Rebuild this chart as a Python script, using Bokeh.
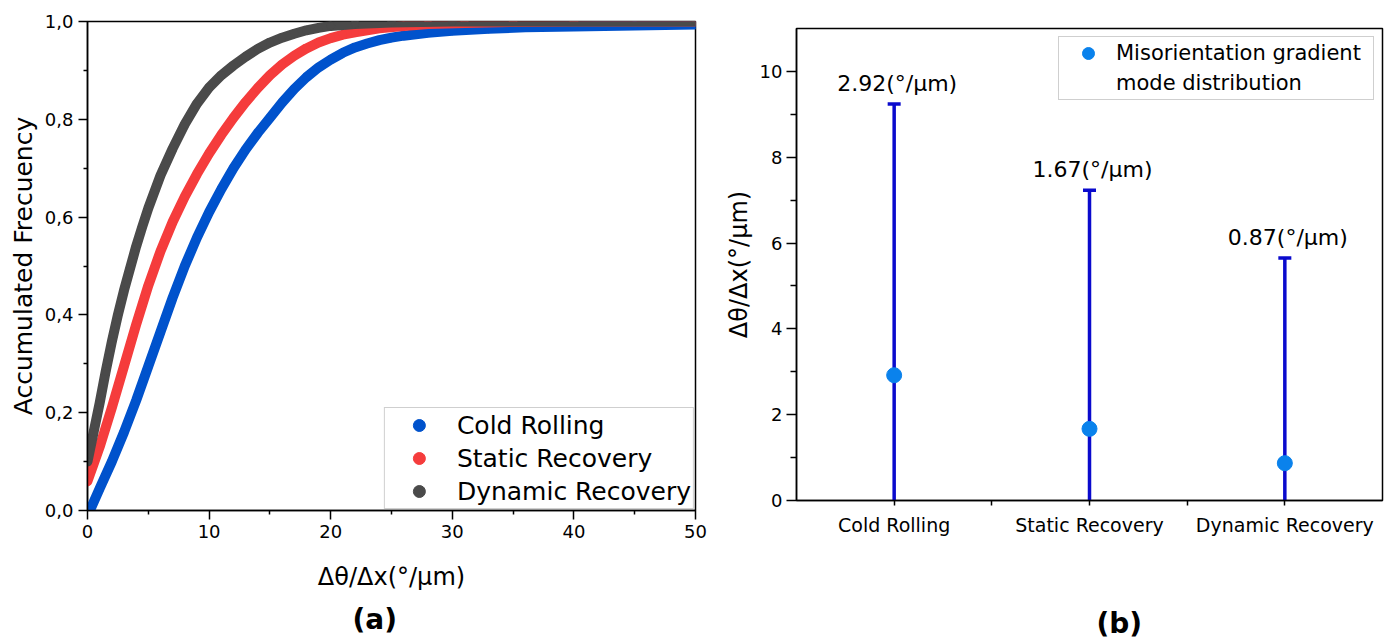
from bokeh.plotting import figure
from bokeh.models import (ColumnDataSource, Legend, LegendItem, FixedTicker, Whisker,
                          TeeHead, Title, Range1d)
from bokeh.layouts import row, column
from bokeh.embed import file_html
from bokeh.resources import INLINE
from bokeh.core.properties import value

# ---------------- data ----------------
cold_x = [0.2, 1, 2, 3, 4, 5, 6, 7, 8, 9, 10, 11, 12, 13, 14, 15, 16, 17, 18, 19, 20, 21, 22, 23, 24, 25,
          26, 28, 30, 33, 36, 40, 45, 50]
cold_y = [0.0, 0.045, 0.10, 0.16, 0.225, 0.295, 0.365, 0.435, 0.50, 0.558, 0.61, 0.657, 0.70, 0.738, 0.772,
          0.803, 0.834, 0.862, 0.886, 0.906, 0.922, 0.936, 0.947, 0.955, 0.962, 0.967, 0.971, 0.977, 0.981,
          0.985, 0.988, 0.990, 0.992, 0.994]

static_x = [0, 0.5, 1, 2, 3, 4, 5, 6, 7, 8, 9, 10, 11, 12, 13, 14, 15, 16, 17, 18, 19, 20, 21, 22, 24, 26,
            28, 31, 35, 40, 50]
static_y = [0.06, 0.095, 0.13, 0.21, 0.295, 0.38, 0.46, 0.53, 0.59, 0.642, 0.688, 0.73, 0.768, 0.803, 0.835,
            0.864, 0.89, 0.912, 0.93, 0.945, 0.957, 0.966, 0.973, 0.978, 0.986, 0.991, 0.995, 0.997, 0.999,
            1.0, 1.0]

dynamic_x = [0, 0.5, 1, 1.5, 2, 2.5, 3, 3.5, 4, 4.5, 5, 6, 7, 8, 9, 10, 11, 12, 13, 14, 15, 16, 17, 18, 19,
             20, 22, 25, 30, 50]
dynamic_y = [0.10, 0.16, 0.22, 0.285, 0.345, 0.40, 0.45, 0.495, 0.54, 0.58, 0.618, 0.685, 0.74, 0.79, 0.832,
             0.865, 0.89, 0.91, 0.928, 0.944, 0.957, 0.967, 0.975, 0.982, 0.987, 0.991, 0.995, 0.998, 1.0, 1.0]

series_names = ["Cold Rolling", "Static Recovery", "Dynamic Recovery"]
series_colors = ["#0052CC", "#F53C3C", "#4A4A4A"]

left_x_ticks = [0, 10, 20, 30, 40, 50]
left_x_minor = [5, 15, 25, 35, 45]
left_y_ticks = [0, 0.2, 0.4, 0.6, 0.8, 1.0]
left_y_minor = [0.1, 0.3, 0.5, 0.7, 0.9]
left_y_labels = ["0,0", "0,2", "0,4", "0,6", "0,8", "1,0"]

categories = ["Cold Rolling", "Static Recovery", "Dynamic Recovery"]
cat_pos = [1, 2, 3]
cat_minor = [1.5, 2.5]
mode_vals = [2.92, 1.67, 0.87]
upper_vals = [9.24, 7.23, 5.65]
lower_vals = [0, 0, 0]
mode_labels = ["2.92(°/μm)", "1.67(°/μm)", "0.87(°/μm)"]
right_y_ticks = [0, 2, 4, 6, 8, 10]
right_y_minor = [1, 3, 5, 7, 9]

FONT = "DejaVu Sans"


def style_axes(p):
    p.grid.visible = False
    p.outline_line_color = "black"
    p.outline_line_width = 1.5
    p.outline_line_alpha = 1
    p.background_fill_color = "white"
    p.border_fill_color = "white"
    for ax in (p.xaxis[0], p.yaxis[0]):
        ax.axis_line_width = 1.5
        ax.axis_line_color = "black"
        ax.major_tick_line_color = "black"
        ax.minor_tick_line_color = "black"
        ax.major_tick_line_width = 1.5
        ax.minor_tick_line_width = 1.5
        ax.major_tick_in = 0
        ax.minor_tick_in = 0
        ax.major_label_text_color = "black"
        ax.major_label_text_font = FONT
        ax.axis_label_text_color = "black"
        ax.axis_label_text_font = FONT
        ax.axis_label_text_font_style = "normal"


# ---------------- left panel ----------------
p1 = figure(width=715, height=643, x_range=Range1d(0, 50), y_range=Range1d(0, 1),
            output_backend="svg", toolbar_location=None,
            min_border_left=87, min_border_right=20, min_border_top=21, min_border_bottom=132)
style_axes(p1)

legend_items = []
for xs, ys, name, col in zip([cold_x, static_x, dynamic_x], [cold_y, static_y, dynamic_y],
                             series_names, series_colors):
    p1.line(xs, ys, line_color=col, line_width=10, line_cap="round", line_join="round")
    dots = p1.scatter(xs, ys, size=8, fill_color=col, line_color=col)
    legend_items.append(LegendItem(label=name, renderers=[dots]))

p1.xaxis.ticker = FixedTicker(ticks=left_x_ticks, minor_ticks=left_x_minor)
p1.yaxis.ticker = FixedTicker(ticks=left_y_ticks, minor_ticks=left_y_minor)
p1.yaxis.major_label_overrides = dict(zip(left_y_ticks, left_y_labels))
p1.xaxis.major_tick_out = 9
p1.xaxis.minor_tick_out = 4
p1.yaxis.major_tick_out = 9
p1.yaxis.minor_tick_out = 4
p1.xaxis.major_label_text_font_size = "18px"
p1.yaxis.major_label_text_font_size = "18px"
p1.xaxis.major_label_standoff = 5
p1.yaxis.major_label_standoff = 5
p1.xaxis.axis_label = "Δθ/Δx(°/μm)"
p1.xaxis.axis_label_text_font_size = "24px"
p1.xaxis.axis_label_standoff = 22
p1.yaxis.axis_label = "Accumulated Frecuency"
p1.yaxis.axis_label_text_font_size = "25px"
p1.yaxis.axis_label_standoff = 4

leg1 = Legend(items=legend_items, location="bottom_right", margin=1, padding=2, spacing=3,
              glyph_width=64, glyph_height=30, label_height=30, label_standoff=6,
              label_text_font=FONT, label_text_font_size="25px", label_text_color="black",
              border_line_color="#a0a0a0", border_line_width=1.5, background_fill_alpha=1)
p1.add_layout(leg1)

t1 = Title(text="(a)", align="left", offset=265, standoff=15,
           text_font=FONT, text_font_size="28px", text_font_style="bold", text_color="black")
p1.add_layout(t1, "below")

# ---------------- right panel ----------------
p2 = figure(width=672, height=643, x_range=Range1d(0.5, 3.5), y_range=Range1d(0, 11),
            output_backend="svg", toolbar_location=None,
            min_border_left=81, min_border_right=5, min_border_top=28, min_border_bottom=143)
style_axes(p2)

src = ColumnDataSource(dict(x=cat_pos, mode=mode_vals, upper=upper_vals, lower=lower_vals,
                            label=mode_labels))
bar_color = "#0A0ACD"
wh = Whisker(source=src, base="x", upper="upper", lower="lower", dimension="height",
             line_color=bar_color, line_width=3.5,
             upper_head=TeeHead(size=13, line_color=bar_color, line_width=3.5),
             lower_head=None, level="underlay")
p2.add_layout(wh)
pts = p2.scatter("x", "mode", source=src, size=15, fill_color="#0A82EC", line_color="#0A82EC")
p2.text("x", "upper", text="label", source=src, text_align="center", text_baseline="middle",
        x_offset=3, y_offset=-21, text_font=value(FONT), text_font_size="22px", text_color="black")

blank = p2.scatter(x=[], y=[], size=1, fill_alpha=0, line_alpha=0)
leg2 = Legend(items=[LegendItem(label="Misorientation gradient", renderers=[pts]),
                     LegendItem(label="mode distribution", renderers=[blank])],
              location="top_right", margin=8, padding=1, spacing=0,
              glyph_width=56, glyph_height=30, label_height=30, label_width=256, label_standoff=0,
              label_text_font=FONT, label_text_font_size="21px", label_text_color="black",
              border_line_color="#a0a0a0", border_line_width=1.5, background_fill_alpha=1)
p2.add_layout(leg2)

p2.xaxis.ticker = FixedTicker(ticks=cat_pos, minor_ticks=cat_minor)
p2.xaxis.major_label_overrides = dict(zip(cat_pos, categories))
p2.yaxis.ticker = FixedTicker(ticks=right_y_ticks, minor_ticks=right_y_minor)
p2.xaxis.major_tick_out = 5
p2.xaxis.minor_tick_out = 5
p2.yaxis.major_tick_out = 10
p2.yaxis.minor_tick_out = 6
p2.xaxis.major_label_text_font_size = "19px"
p2.yaxis.major_label_text_font_size = "18px"
p2.xaxis.major_label_standoff = 8
p2.yaxis.major_label_standoff = 4
# blank x-axis label only reserves the vertical room that the reference leaves empty
p2.xaxis.axis_label = " "
p2.xaxis.axis_label_text_font_size = "28px"
p2.xaxis.axis_label_standoff = 30
p2.yaxis.axis_label = "Δθ/Δx(°/μm)"
p2.yaxis.axis_label_text_font_size = "24px"
p2.yaxis.axis_label_standoff = 4

t2 = Title(text="(b)", align="left", offset=300, standoff=0,
           text_font=FONT, text_font_size="28px", text_font_style="bold", text_color="black")
p2.add_layout(t2, "below")

layout = row(column(p1), column(p2), spacing=0)
open("out.html", "w").write(file_html(layout, INLINE))
